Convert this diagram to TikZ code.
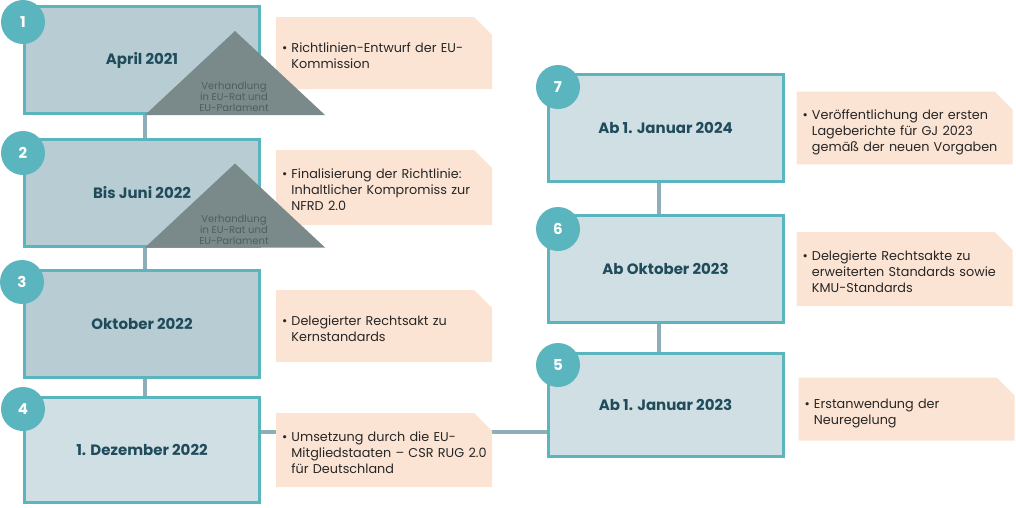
\documentclass[tikz,border=0pt]{standalone}
\usepackage{fontspec}
\setmainfont{Poppins}
\usepackage{xcolor}
\usetikzlibrary{positioning, shapes.misc, backgrounds}

\definecolor{rim}{HTML}{5AB5BF}
\definecolor{boxdark}{HTML}{B7CDD3}
\definecolor{boxlight}{HTML}{D0DFE4}
\definecolor{titleink}{HTML}{1F4B5A}
\definecolor{linkline}{HTML}{8DAEB9}
\definecolor{peach}{HTML}{FCE4D4}
\definecolor{trigray}{HTML}{7A8A8A}
\definecolor{triink}{HTML}{4E5E5E}

\newcommand{\bullettext}[1]{\hspace*{-7pt}\raisebox{-4pt}[\height][\depth]{\begin{tabular}{@{}l@{\hspace{4pt}}l@{}}\textbullet & \begin{tabular}[t]{@{}l@{}}#1\end{tabular}\end{tabular}}}

\begin{document}
\begin{tikzpicture}[
      x=1pt, y=-1pt,
      stage/.style={draw=rim, line width=3pt, minimum width=235pt, minimum height=107pt,
        font=\bfseries\fontsize{15}{18}\selectfont, text=titleink},
      early/.style={stage, fill=boxdark},
      late/.style={stage, fill=boxlight},
      badge/.style={circle, fill=rim, minimum size=44pt, inner sep=0pt, text=white,
        font=\bfseries\fontsize{15}{18}\selectfont},
      note/.style={chamfered rectangle, chamfered rectangle corners=north east,
        chamfered rectangle xsep=9pt, chamfered rectangle ysep=9pt,
        fill=peach, minimum width=216pt, minimum height=72pt, inner xsep=4pt,
        text width=190pt, align=left, text=black!85, font=\fontsize{12.8}{16}\selectfont},
      tri/.style={fill=trigray},
      tritext/.style={align=center, text=triink, inner sep=0pt, font=\fontsize{10}{11}\selectfont},
      link/.style={draw=linkline, line width=4pt}
    ]
    \useasboundingbox (0,0) rectangle (1016,507);

    % left column
    \node[early] (d1) at (142,60) {April 2021};
    \node[early] (d2) at (142,192.5) {Bis Juni 2022};
    \node[early] (d3) at (142,324) {Oktober 2022};
    \node[late, minimum height=105pt] (d4) at (142,450) {1. Dezember 2022};

    % right column
    \node[late] (d7) at (665.5,128) {Ab 1. Januar 2024};
    \node[late] (d6) at (665.5,269) {Ab Oktober 2023};
    \node[late, minimum height=103pt] (d5) at (665.5,405) {Ab 1. Januar 2023};

    \node[note, right=15pt of d1, yshift=7pt] (n1) {\bullettext{Richtlinien-Entwurf der EU-\\Kommission}};
    \node[note, right=15pt of d2, yshift=5pt, minimum height=75pt] (n2) {\bullettext{Finalisierung der Richtlinie:\\Inhaltlicher Kompromiss zur\\NFRD 2.0}};
    \node[note, right=15pt of d3, yshift=-2pt] (n3) {\bullettext{Delegierter Rechtsakt zu\\Kernstandards}};
    \node[note, right=15pt of d4, minimum height=74pt] (n4) {\bullettext{Umsetzung durch die EU-\\Mitgliedstaaten -- CSR RUG 2.0\\für Deutschland}};
    \node[note, right=12pt of d7, minimum height=68pt] (n7) {\bullettext{Veröffentlichung der ersten\\Lageberichte für GJ 2023\\gemäß der neuen Vorgaben}};
    \node[note, right=12pt of d6, minimum height=74pt] (n6) {\bullettext{Delegierte Rechtsakte zu\\erweiterten Standards sowie\\KMU-Standards}};
    \node[note, right=14pt of d5, yshift=-4pt, minimum height=63pt] (n5) {\bullettext{Erstanwendung der\\Neuregelung}};

    % negotiation triangles
    \fill[tri] ([xshift=3pt]d1.south) -- ++(90,-84) -- ++(90,84) -- cycle;
    \node[tritext] (v1) at ([shift={(92,-18)}]d1.south) {Verhandlung\\in EU-Rat und\\EU-Parlament};
    \fill[tri] ([xshift=3pt]d2.south) -- ++(90,-84) -- ++(90,84) -- cycle;
    \node[tritext] (v2) at ([shift={(92,-18)}]d2.south) {Verhandlung\\in EU-Rat und\\EU-Parlament};

    \node[badge] (b1) at (23,22) {1};
    \node[badge] (b2) at (23,153) {2};
    \node[badge] (b3) at (22,282) {3};
    \node[badge] (b4) at (23,409) {4};
    \node[badge] (b7) at (558,87) {7};
    \node[badge] (b6) at (558,229) {6};
    \node[badge] (b5) at (558,365) {5};

    \coordinate (j45) at (d4.east |- 0,432);

    \begin{scope}[on background layer]
      \draw[link] ([xshift=3pt]d1.south) -- ([xshift=3pt]d2.north);
      \draw[link] ([xshift=3pt]d2.south) -- ([xshift=3pt]d3.north);
      \draw[link] ([xshift=3pt]d3.south) -- ([xshift=3pt]d4.north);
      \draw[link] ([xshift=-6.5pt]d7.south) -- ([xshift=-6.5pt]d6.north);
      \draw[link] ([xshift=-6.5pt]d6.south) -- ([xshift=-6.5pt]d5.north);
      \draw[link] (j45) -- (j45 -| d5.west);
    \end{scope}
  \end{tikzpicture}
\end{document}
